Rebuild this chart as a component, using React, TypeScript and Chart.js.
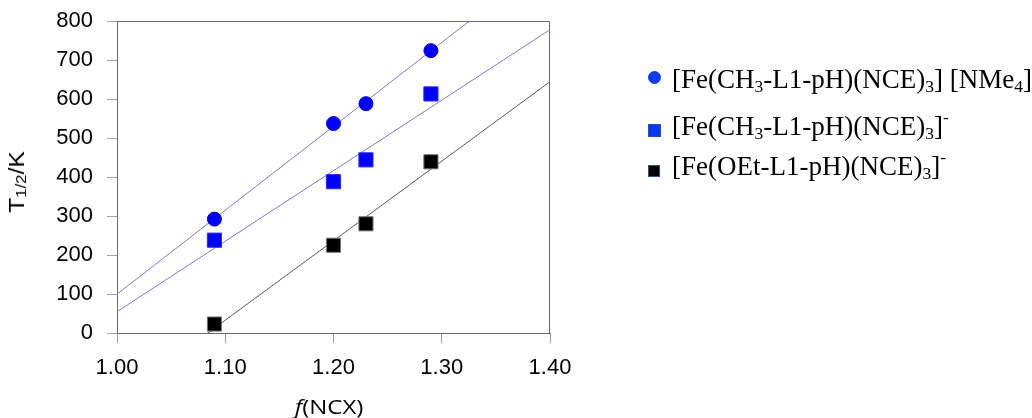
import React, { useEffect, useRef } from 'react';
import { Chart, registerables } from 'chart.js';

Chart.register(...registerables);

// ---- data ----
const xValues = [1.09, 1.2, 1.23, 1.29];
const nme4Values = [292, 537, 588, 724];
const ch3Values = [238, 388, 444, 613];
const oetValues = [23, 225, 280, 439];
const xTicks = [1.0, 1.1, 1.2, 1.3, 1.4];
const yTicks = [0, 100, 200, 300, 400, 500, 600, 700, 800];
const seriesNames = [
  '[Fe(CH3-L1-pH)(NCE)3] [NMe4]',
  '[Fe(CH3-L1-pH)(NCE)3]-',
  '[Fe(OEt-L1-pH)(NCE)3]-',
];

// least-squares trend line over the x-axis range
function trend(xs: number[], ys: number[]) {
  const n = xs.length;
  const mx = xs.reduce((a, b) => a + b, 0) / n;
  const my = ys.reduce((a, b) => a + b, 0) / n;
  let sxy = 0;
  let sxx = 0;
  for (let i = 0; i < n; i++) {
    sxy += (xs[i] - mx) * (ys[i] - my);
    sxx += (xs[i] - mx) * (xs[i] - mx);
  }
  const slope = sxy / sxx;
  const x0 = xTicks[0];
  const x1 = xTicks[xTicks.length - 1];
  return [
    { x: x0, y: my + slope * (x0 - mx) },
    { x: x1, y: my + slope * (x1 - mx) },
  ];
}

const pts = (ys: number[]) => xValues.map((x, i) => ({ x, y: ys[i] }));

const TICK_FONT = '"Liberation Sans", Arial, Helvetica, sans-serif';

const framePlugin = {
  id: 'frame',
  beforeDatasetsDraw(chart: any) {
    const { ctx, chartArea: a } = chart;
    ctx.save();
    ctx.strokeStyle = '#6b6b6b';
    ctx.lineWidth = 1;
    ctx.beginPath();
    const t = Math.round(a.top) + 0.5;
    const r = Math.round(a.right) - 0.5;
    ctx.moveTo(Math.round(a.left), t);
    ctx.lineTo(r, t);
    ctx.lineTo(r, Math.round(a.bottom));
    ctx.stroke();
    ctx.restore();
  },
};

function ChartCanvas() {
  const ref = useRef<HTMLCanvasElement | null>(null);
  useEffect(() => {
    if (!ref.current) return;
    const chart = new Chart(ref.current, {
      type: 'scatter',
      data: {
        datasets: [
          {
            label: seriesNames[0],
            data: pts(nme4Values),
            pointStyle: 'circle',
            pointRadius: 7,
            backgroundColor: '#0000ff',
            borderColor: '#0000ee',
            borderWidth: 1,
            order: 0,
          },
          {
            label: seriesNames[1],
            data: pts(ch3Values),
            pointStyle: 'rect',
            pointRadius: 10,
            backgroundColor: '#0000ff',
            borderColor: '#2a2aff',
            borderWidth: 1,
            order: 0,
          },
          {
            label: seriesNames[2],
            data: pts(oetValues),
            pointStyle: 'rect',
            pointRadius: 10,
            backgroundColor: '#000000',
            borderColor: '#777777',
            borderWidth: 1,
            order: 0,
          },
          {
            label: 'fit1',
            data: trend(xValues, nme4Values),
            showLine: true,
            pointRadius: 0,
            borderColor: '#7b7bd4',
            borderWidth: 1,
            order: 1,
          },
          {
            label: 'fit2',
            data: trend(xValues, ch3Values),
            showLine: true,
            pointRadius: 0,
            borderColor: '#7b7bd4',
            borderWidth: 1,
            order: 1,
          },
          {
            label: 'fit3',
            data: trend(xValues, oetValues),
            showLine: true,
            pointRadius: 0,
            borderColor: '#5a5a5a',
            borderWidth: 1,
            order: 1,
          },
        ],
      } as any,
      options: {
        animation: false,
        responsive: false,
        maintainAspectRatio: false,
        events: [],
        layout: { padding: { top: 21, right: 482, left: 0, bottom: 0 } },
        plugins: { legend: { display: false }, tooltip: { enabled: false } },
        scales: {
          x: {
            type: 'linear',
            min: xTicks[0],
            max: xTicks[xTicks.length - 1],
            afterBuildTicks: (s: any) => {
              s.ticks = xTicks.map((v) => ({ value: v }));
            },
            afterFit: (s: any) => {
              s.height = 85;
              s.paddingLeft = 0;
              s.paddingRight = 0;
            },
            ticks: {
              font: { family: TICK_FONT, size: 22 },
              color: '#000',
              padding: 12,
              autoSkip: false,
              maxRotation: 0,
              callback: (v: any) => Number(v).toFixed(2),
            },
            grid: { drawOnChartArea: false, tickLength: 10, color: '#a0a0a0' },
            border: { color: '#6b6b6b', width: 1 },
          },
          y: {
            type: 'linear',
            min: yTicks[0],
            max: yTicks[yTicks.length - 1],
            afterBuildTicks: (s: any) => {
              s.ticks = yTicks.map((v) => ({ value: v }));
            },
            afterFit: (s: any) => {
              s.width = 117;
              s.paddingTop = 0;
              s.paddingBottom = 0;
            },
            ticks: {
              font: { family: TICK_FONT, size: 22 },
              color: '#000',
              padding: 14,
              autoSkip: false,
              callback: (v: any) => String(v),
            },
            grid: { drawOnChartArea: false, tickLength: 10, color: '#a0a0a0' },
            border: { color: '#6b6b6b', width: 1 },
          },
        },
      } as any,
      plugins: [framePlugin],
    });
    return () => chart.destroy();
  }, []);
  return (
    <canvas
      ref={ref}
      width={1032}
      height={418}
      style={{ position: 'absolute', left: 0, top: 0, width: 1032, height: 418 }}
    />
  );
}

const SERIF = '"Liberation Serif", "Times New Roman", serif';
const sub = (t: string) => (
  <span style={{ fontSize: '17.5px', position: 'relative', top: '4px' }}>{t}</span>
);
const sup = (t: string) => (
  <span style={{ fontSize: '17.5px', position: 'relative', top: '-12px' }}>{t}</span>
);

const legendRows = [
  {
    marker: { cy: 77.5, size: 13, round: true, fill: '#0a3cf5', border: '#0a3cf5' },
    baseline: 88,
    content: (
      <>
        [Fe(CH{sub('3')}-L1-pH)(NCE){sub('3')}] [NMe{sub('4')}]
      </>
    ),
  },
  {
    marker: { cy: 130.5, size: 13, round: false, fill: '#0038ff', border: '#2d4fb5' },
    baseline: 135,
    content: (
      <>
        [Fe(CH{sub('3')}-L1-pH)(NCE){sub('3')}]{sup('-')}
      </>
    ),
  },
  {
    marker: { cy: 170.5, size: 12, round: false, fill: '#000000', border: '#34508c' },
    baseline: 175,
    content: (
      <>
        [Fe(OEt-L1-pH)(NCE){sub('3')}]{sup('-')}
      </>
    ),
  },
];

export default function App() {
  return (
    <div
      style={{
        position: 'absolute',
        left: 0,
        top: 0,
        width: 1032,
        height: 418,
        background: '#fff',
        overflow: 'hidden',
      }}
    >
      <ChartCanvas />
      {/* y-axis title */}
      <div
        style={{
          position: 'absolute',
          left: 18,
          top: 182,
          transform: 'translate(-50%, -50%) rotate(-90deg) scaleX(1.12)',
          fontFamily: TICK_FONT,
          fontSize: '22px',
          lineHeight: '24px',
          whiteSpace: 'nowrap',
          color: '#000',
        }}
      >
        T<span style={{ fontSize: '15px', position: 'relative', top: '2px' }}>1/2</span>/K
      </div>
      {/* x-axis title */}
      <div
        style={{
          position: 'absolute',
          left: 329,
          top: 407,
          transform: 'translate(-50%, -50%) scaleX(1.2)',
          fontFamily: '"Open Sans", sans-serif',
          fontSize: '20px',
          lineHeight: '24px',
          whiteSpace: 'nowrap',
          color: '#000',
        }}
      >
        <i>f</i>(NCX)
      </div>
      {/* legend */}
      {legendRows.map((r, i) => (
        <React.Fragment key={i}>
          <div
            style={{
              position: 'absolute',
              left: 654 - r.marker.size / 2,
              top: r.marker.cy - r.marker.size / 2,
              width: r.marker.size,
              height: r.marker.size,
              boxSizing: 'border-box',
              background: r.marker.fill,
              border: `1px solid ${r.marker.border}`,
              borderRadius: r.marker.round ? '50%' : 0,
            }}
          />
          <div
            style={{
              position: 'absolute',
              left: 672,
              top: r.baseline - 24,
              fontFamily: SERIF,
              fontSize: '27px',
              lineHeight: '30px',
              whiteSpace: 'nowrap',
              color: '#000',
            }}
          >
            {r.content}
          </div>
        </React.Fragment>
      ))}
    </div>
  );
}
